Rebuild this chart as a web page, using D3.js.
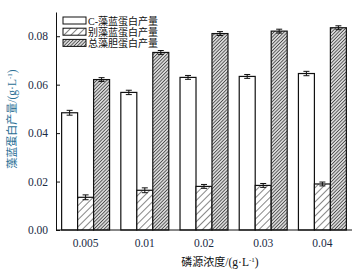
<!DOCTYPE html>
<html lang="zh">
<head>
<meta charset="utf-8">
<script src="https://cdn.jsdelivr.net/npm/d3@7"></script>
<style>
  body { margin: 0; background: #fff; }
</style>
</head>
<body>
<div id="chart"></div>
<script>
// 数据
var categories = ["0.005", "0.01", "0.02", "0.03", "0.04"];
var seriesNames = ["C-藻蓝蛋白产量", "别藻蓝蛋白产量", "总藻胆蛋白产量"];
var cpc = [0.0484, 0.0568, 0.0630, 0.0634, 0.0646];
var apc = [0.0135, 0.0164, 0.0180, 0.0184, 0.0190];
var total = [0.0621, 0.0733, 0.0811, 0.0821, 0.0835];
var cpcErr = [0.0010, 0.0009, 0.0008, 0.0008, 0.0009];
var apcErr = [0.0010, 0.0010, 0.0008, 0.0008, 0.0008];
var totalErr = [0.0008, 0.0008, 0.0008, 0.0008, 0.0008];
var yTicks = [0, 0.02, 0.04, 0.06, 0.08];

var w = 358, h = 272;
var margin = {left: 56, right: 6, top: 12, bottom: 42};
var serif = "Liberation Serif";
var mixed = "'Liberation Serif', 'Noto Sans CJK SC'";

var svg = d3.select("#chart").append("svg")
            .attr("width", w).attr("height", h);

// 填充图案
var defs = svg.append("defs");
var p1 = defs.append("pattern").attr("id", "hatchLight")
             .attr("patternUnits", "userSpaceOnUse")
             .attr("width", 5).attr("height", 5)
             .attr("patternTransform", "rotate(45)");
p1.append("rect").attr("width", 5).attr("height", 5).attr("fill", "#fff");
p1.append("line").attr("x1", 0).attr("y1", 0).attr("x2", 0).attr("y2", 5)
  .attr("stroke", "#222").attr("stroke-width", 1.1);
var p2 = defs.append("pattern").attr("id", "hatchDark")
             .attr("patternUnits", "userSpaceOnUse")
             .attr("width", 2.4).attr("height", 2.4)
             .attr("patternTransform", "rotate(45)");
p2.append("rect").attr("width", 2.4).attr("height", 2.4).attr("fill", "#d8d8d8");
p2.append("line").attr("x1", 0).attr("y1", 0).attr("x2", 0).attr("y2", 2.4)
  .attr("stroke", "#2a2a2a").attr("stroke-width", 1.3);
var fills = ["#fff", "url(#hatchLight)", "url(#hatchDark)"];

// 比例尺
var x0 = d3.scaleBand().domain(categories)
           .range([margin.left, w - margin.right])
           .paddingInner(0.19).paddingOuter(0.095);
var x1 = d3.scaleBand().domain(d3.range(3)).range([0, x0.bandwidth()]);
var y = d3.scaleLinear().domain([0, 0.09]).range([h - margin.bottom, margin.top]);

var values = [cpc, apc, total];
var errs = [cpcErr, apcErr, totalErr];
var rows = [];
categories.forEach(function(c, i) {
  for (var s = 0; s < 3; s++) {
    rows.push({cat: c, s: s, v: values[s][i], e: errs[s][i]});
  }
});

// 条形
svg.selectAll("rect.bar").data(rows).enter()
   .append("rect").attr("class", "bar")
   .attr("x", function(d) { return x0(d.cat) + x1(d.s); })
   .attr("y", function(d) { return y(d.v); })
   .attr("width", x1.bandwidth())
   .attr("height", function(d) { return y(0) - y(d.v); })
   .attr("fill", function(d) { return fills[d.s]; })
   .attr("stroke", "#111").attr("stroke-width", 1.2);

// 误差线
var eb = svg.selectAll("g.err").data(rows).enter().append("g").attr("class", "err")
            .attr("stroke", "#111").attr("stroke-width", 1);
eb.append("line")
  .attr("x1", function(d) { return x0(d.cat) + x1(d.s) + x1.bandwidth() / 2; })
  .attr("x2", function(d) { return x0(d.cat) + x1(d.s) + x1.bandwidth() / 2; })
  .attr("y1", function(d) { return y(d.v + d.e); })
  .attr("y2", function(d) { return y(d.v - d.e); });
[1, -1].forEach(function(k) {
  eb.append("line")
    .attr("x1", function(d) { return x0(d.cat) + x1(d.s) + x1.bandwidth() / 2 - 3; })
    .attr("x2", function(d) { return x0(d.cat) + x1(d.s) + x1.bandwidth() / 2 + 3; })
    .attr("y1", function(d) { return y(d.v + k * d.e); })
    .attr("y2", function(d) { return y(d.v + k * d.e); });
});

// 坐标轴
var yAxis = d3.axisLeft(y).tickValues(yTicks)
              .tickFormat(d3.format(".2f")).tickSizeInner(-4).tickSizeOuter(0).tickPadding(8);
var gy = svg.append("g").attr("transform", "translate(" + margin.left + ",0)").call(yAxis);
gy.attr("font-family", serif);
gy.selectAll("text").attr("font-size", 11.5).attr("fill", "#1a2a44");
gy.select(".domain").attr("stroke", "#111");
gy.selectAll(".tick line").attr("stroke", "#111");

var xAxis = d3.axisBottom(x0).tickSize(0).tickPadding(9);
var gx = svg.append("g").attr("transform", "translate(0," + (h - margin.bottom) + ")").call(xAxis);
gx.attr("font-family", serif);
gx.selectAll("text").attr("font-size", 11.5).attr("fill", "#1a2a44");
gx.select(".domain").attr("stroke", "#111").attr("d", "M" + margin.left + ",0H" + (w - margin.right));

// 轴标题
var xt = svg.append("text").attr("x", 220).attr("y", 266)
            .attr("text-anchor", "middle").attr("font-size", 11.5)
            .attr("font-family", mixed).attr("fill", "#111");
xt.append("tspan").attr("font-size", 11).text("磷源浓度");
xt.append("tspan").text("/(g·L");
xt.append("tspan").attr("font-size", 7).attr("dy", -4).text("-1");
xt.append("tspan").attr("dy", 4).text(")");

var yt = svg.append("text")
            .attr("transform", "translate(16,119) rotate(-90)")
            .attr("text-anchor", "middle").attr("font-size", 11.5)
            .attr("font-family", mixed).attr("fill", "#2a6f95");
yt.append("tspan").attr("font-size", 11).text("藻蓝蛋白产量");
yt.append("tspan").text("/(g·L");
yt.append("tspan").attr("font-size", 7).attr("dy", -4).text("-1");
yt.append("tspan").attr("dy", 4).text(")");

// 图例
var lg = svg.selectAll("g.legend").data(seriesNames).enter().append("g")
            .attr("class", "legend")
            .attr("transform", function(d, i) { return "translate(63," + (17 + i * 11.2) + ")"; });
lg.append("rect").attr("width", 23).attr("height", 7)
  .attr("fill", function(d, i) { return fills[i]; })
  .attr("stroke", "#111").attr("stroke-width", 1);
lg.append("text").attr("x", 25).attr("y", 7.5)
  .attr("font-size", 10).attr("font-family", mixed).attr("fill", "#111")
  .text(function(d) { return d; });
</script>
</body>
</html>
